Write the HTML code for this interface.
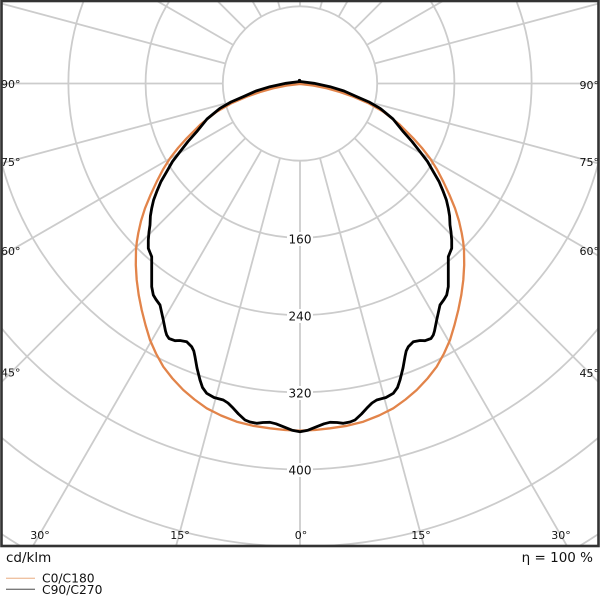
<!DOCTYPE html>
<html>
<head>
<meta charset="utf-8">
<style>
  html, body { margin:0; padding:0; background:#fff; width:600px; height:600px; overflow:hidden; }
  svg { display:block; overflow:hidden; }
  text { font-family: "DejaVu Sans", "Liberation Sans", sans-serif; fill:#111; }
</style>
</head>
<body>
<svg width="600" height="600" viewBox="0 0 600 600" xmlns="http://www.w3.org/2000/svg">
  <defs>
    <clipPath id="plot">
      <rect x="2" y="1.5" width="596" height="544"/>
    </clipPath>
  </defs>
  <rect x="0" y="0" width="600" height="600" fill="#fff"/>

  <g clip-path="url(#plot)">
    <!-- rings (visible arcs only) -->
    <g stroke="#cccccc" stroke-width="1.8" fill="none">
      <circle cx="300" cy="83.5" r="77.2"/>
      <path d="M170.1,0 A154.4,154.4 0 1 0 429.9,0"/>
      <path d="M84,0 A231.6,231.6 0 1 0 516,0"/>
      <path d="M0,156.7 A308.8,308.8 0 0 0 600,156.7"/>
      <path d="M0,326.4 A386,386 0 0 0 600,326.4"/>
      <path d="M0,436.4 A463.2,463.2 0 0 0 600,436.4"/>
      <path d="M0,533 A540.4,540.4 0 0 0 20.5,546"/>
      <path d="M579.5,546 A540.4,540.4 0 0 0 600,533"/>
    </g>
    <!-- radial lines -->
    <g transform="translate(300,83.5)" stroke="#cccccc" stroke-width="1.8" fill="none">
      <line x1="0" y1="77.2" x2="0" y2="464" transform="rotate(0)"/>
      <line x1="0" y1="77.2" x2="0" y2="481" transform="rotate(15)"/>
      <line x1="0" y1="77.2" x2="0" y2="481" transform="rotate(-15)"/>
      <line x1="0" y1="77.2" x2="0" y2="536" transform="rotate(30)"/>
      <line x1="0" y1="77.2" x2="0" y2="536" transform="rotate(-30)"/>
      <line x1="0" y1="77.2" x2="0" y2="425" transform="rotate(45)"/>
      <line x1="0" y1="77.2" x2="0" y2="425" transform="rotate(-45)"/>
      <line x1="0" y1="77.2" x2="0" y2="347" transform="rotate(60)"/>
      <line x1="0" y1="77.2" x2="0" y2="347" transform="rotate(-60)"/>
      <line x1="0" y1="77.2" x2="0" y2="311" transform="rotate(75)"/>
      <line x1="0" y1="77.2" x2="0" y2="311" transform="rotate(-75)"/>
      <line x1="0" y1="77.2" x2="0" y2="300" transform="rotate(90)"/>
      <line x1="0" y1="77.2" x2="0" y2="300" transform="rotate(-90)"/>
      <line x1="0" y1="77.2" x2="0" y2="311" transform="rotate(105)"/>
      <line x1="0" y1="77.2" x2="0" y2="311" transform="rotate(-105)"/>
      <line x1="0" y1="77.2" x2="0" y2="168" transform="rotate(120)"/>
      <line x1="0" y1="77.2" x2="0" y2="168" transform="rotate(-120)"/>
      <line x1="0" y1="77.2" x2="0" y2="119" transform="rotate(135)"/>
      <line x1="0" y1="77.2" x2="0" y2="119" transform="rotate(-135)"/>
      <line x1="0" y1="77.2" x2="0" y2="97" transform="rotate(150)"/>
      <line x1="0" y1="77.2" x2="0" y2="97" transform="rotate(-150)"/>
      <line x1="0" y1="77.2" x2="0" y2="87" transform="rotate(165)"/>
      <line x1="0" y1="77.2" x2="0" y2="87" transform="rotate(-165)"/>
      <line x1="0" y1="77.2" x2="0" y2="84" transform="rotate(180)"/>
    </g>

    <!-- ring labels -->
    <g font-size="12" text-anchor="middle">
      <rect x="287" y="232" width="26" height="14" fill="#fff"/>
      <text x="300" y="243.5">160</text>
      <rect x="287" y="309" width="26" height="14" fill="#fff"/>
      <text x="300" y="320.5">240</text>
      <rect x="287" y="386" width="26" height="14" fill="#fff"/>
      <text x="300" y="397.5">320</text>
      <rect x="287" y="463" width="26" height="14" fill="#fff"/>
      <text x="300" y="474.5">400</text>
    </g>

    <!-- C0/C180 orange -->
    <polyline fill="none" stroke="#e2844a" stroke-width="2.3" stroke-linejoin="round" stroke-linecap="round"
      points="300,84 287,85.5 273.3,88.3 260,92 246.7,96.7 231,103.5 216.7,111.7 201,124 186.7,138.3 178,148 170,158.3 163,169.5 156.7,181.7 150.5,195 145,208.3 141,221 138.3,233 136.8,242 136,250 135.8,265 136.7,280 138.7,295 141.7,310 145.5,325 150,340 156,353.5 163.3,366.7 172.5,378.5 183.3,390 194.5,399.5 206.7,408.3 221,415.5 236.7,421.7 253,425.8 270,428.3 285,430 300,430.7 315,430 330,428.3 347,425.8 363.3,421.7 379,415.5 393.3,408.3 405.5,399.5 416.7,390 427.5,378.5 436.7,366.7 444,353.5 450,340 454.5,325 458.3,310 461.3,295 463.3,280 464.2,265 464,250 463.2,242 461.7,233 459,221 455,208.3 449.5,195 443.3,181.7 437,169.5 430,158.3 422,148 413.3,138.3 399,124 383.3,111.7 369,103.5 353.3,96.7 340,92 326.7,88.3 313,85.5 300,84"/>

    <!-- C90/C270 black -->
    <polyline fill="none" stroke="#000" stroke-width="2.8" stroke-linejoin="round" stroke-linecap="round"
      points="300,81.5 286,83.3 270,86.7 256,91 243.3,96.7 231,102 220,108.3 207,119 196.7,131.7 188,141.5 180,151.7 172.5,161.5 166.7,171.7 161,181.5 156.7,191.7 153.6,200 151.7,208.3 150.4,216 150,225 149,232 148.3,240 148.3,248.3 150,252.5 151.7,256.7 151.7,286.7 153.3,295 156,299.5 160,305 163.3,320 165.5,331 166.7,335 169,338.5 175,340.7 180,340.5 186.7,341.7 191.7,346.7 193.8,351 195,356.7 197,368 200,380 202.5,387.5 206.7,393.3 214,397.5 223.3,400 228,403 233.3,408.3 238.5,414 245,420 250,422 256.7,423.3 263,422.5 270,422.3 276,423.8 283.3,426.7 292,430.2 300,431.7 308,430.2 316.7,426.7 324,423.8 330,422.3 337,422.5 343.3,423.3 350,422 355,420 361.5,414 366.7,408.3 372,403 376.7,400 386,397.5 393.3,393.3 397.5,387.5 400,380 403,368 405,356.7 406.2,351 408.3,346.7 413.3,341.7 420,340.5 425,340.7 431,338.5 433.3,335 434.5,331 436.7,320 440,305 444,299.5 446.7,295 448.3,286.7 448.3,256.7 450,252.5 451.7,248.3 451.7,240 451,232 450,225 449.6,216 448.3,208.3 446.4,200 443.3,191.7 439,181.5 433.3,171.7 427.5,161.5 420,151.7 412,141.5 403.3,131.7 393,119 380,108.3 369,102 356.7,96.7 344,91 330,86.7 314,83.3 300,81.5"/>
    <circle cx="299.5" cy="80.5" r="1.6" fill="#000"/>

    <!-- angle labels -->
    <g font-size="11">
      <text x="1" y="88">90°</text>
      <text x="1" y="166">75°</text>
      <text x="1" y="255">60°</text>
      <text x="1" y="376.5">45°</text>
      <text x="599" y="89" text-anchor="end">90°</text>
      <text x="599" y="166" text-anchor="end">75°</text>
      <text x="599" y="255" text-anchor="end">60°</text>
      <text x="599" y="377" text-anchor="end">45°</text>
      <text x="40" y="539" text-anchor="middle">30°</text>
      <text x="180" y="539" text-anchor="middle">15°</text>
      <text x="301" y="539" text-anchor="middle">0°</text>
      <text x="421" y="539" text-anchor="middle">15°</text>
      <text x="561" y="539" text-anchor="middle">30°</text>
    </g>
  </g>

  <!-- frame -->
  <rect x="1.5" y="1" width="597" height="545" fill="none" stroke="#333" stroke-width="2.6"/>

  <!-- footer -->
  <text x="6" y="562" font-size="13.5">cd/klm</text>
  <text x="593" y="562" font-size="13.5" text-anchor="end">η = 100 %</text>

  <!-- legend -->
  <line x1="6" y1="578.3" x2="35" y2="578.3" stroke="#efc2a2" stroke-width="1.3"/>
  <text x="42" y="582.7" font-size="12.3">C0/C180</text>
  <line x1="6" y1="589.3" x2="35" y2="589.3" stroke="#7a7a7a" stroke-width="1.3"/>
  <text x="42" y="594" font-size="12.3">C90/C270</text>
</svg>
</body>
</html>
